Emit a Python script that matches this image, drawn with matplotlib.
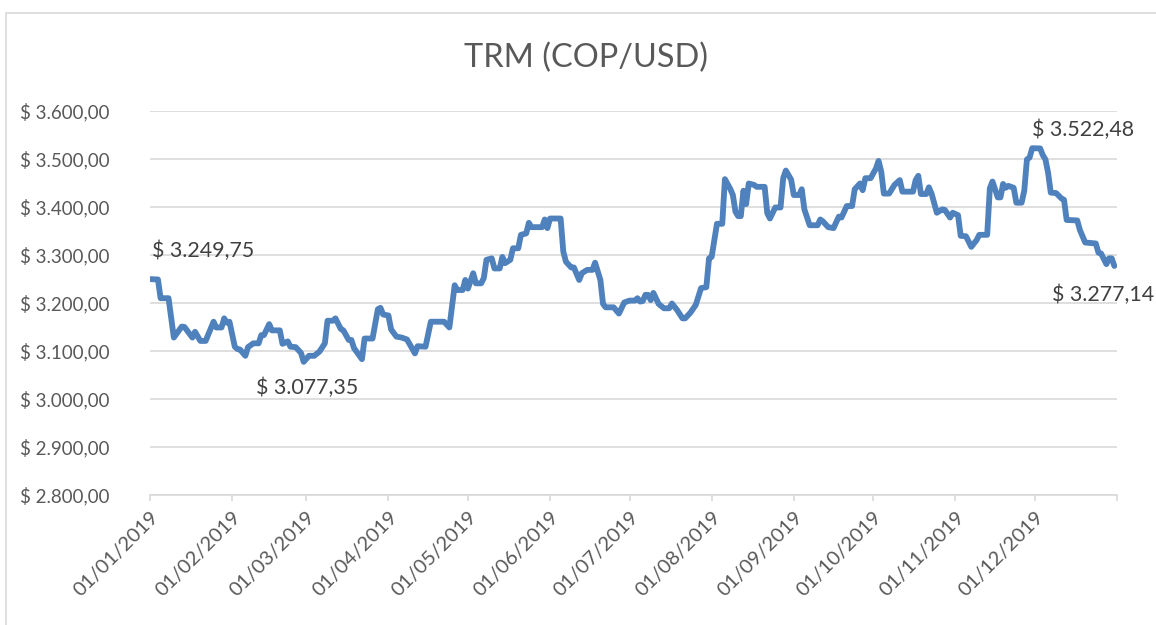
import numpy as np
import pandas as pd
import matplotlib
matplotlib.use("Agg")
import matplotlib.pyplot as plt
from matplotlib.patches import Rectangle

plt.rcParams["font.family"] = ["Lato", "DejaVu Sans"]

# TRM 2019 (día del año desde 01/01/2019, valor COP/USD)
dias = [0, 3, 4, 7, 9, 12, 13, 16, 17, 19, 21, 24, 25, 27, 28, 29, 30, 32, 33, 34,
        36, 37, 39, 41, 42, 43, 45, 46, 49, 50, 52, 53, 55, 57, 58, 60, 62, 64, 66,
        67, 69, 70, 72, 73, 75, 76, 77, 80, 81, 84, 86, 87, 88, 90, 91, 93, 95, 97,
        100, 101, 104, 106, 111, 113, 115, 116, 118, 119, 120, 122, 123, 125, 126,
        127, 129, 130, 132, 133, 134, 136, 137, 139, 140, 142, 143, 144, 148, 149,
        150, 151, 155, 156, 157, 159, 160, 162, 163, 165, 167, 168, 170, 171, 172,
        175, 177, 179, 181, 183, 184, 185, 186, 187, 188, 189, 190, 192, 194, 196,
        197, 199, 201, 202, 204, 206, 208, 210, 211, 212, 214, 216, 217, 219, 220,
        221, 222, 223, 224, 225, 226, 228, 229, 232, 233, 234, 236, 238, 239, 240,
        242, 243, 245, 246, 247, 249, 252, 253, 254, 256, 258, 260, 261, 263, 265,
        266, 268, 269, 270, 272, 274, 275, 276, 277, 279, 281, 283, 284, 288, 289,
        290, 291, 293, 294, 295, 297, 299, 300, 302, 303, 305, 306, 308, 310, 312,
        313, 316, 317, 318, 320, 321, 322, 323, 324, 326, 327, 329, 330, 331, 332,
        333, 336, 337, 338, 339, 340, 342, 344, 345, 346, 350, 351, 353, 355, 357,
        358, 359, 361, 362, 363, 364]
trm = [3249.75, 3249, 3210, 3210, 3128, 3151, 3150, 3128, 3140, 3121, 3121, 3161,
       3149, 3149, 3168, 3159, 3161, 3109, 3104, 3103, 3090, 3108, 3116, 3116, 3133,
       3133, 3156, 3143, 3143, 3115, 3120, 3109, 3108, 3096, 3077.35, 3090, 3090,
       3099, 3116, 3163, 3163, 3168, 3146, 3143, 3123, 3123, 3106, 3083, 3126, 3126,
       3187, 3190, 3176, 3174, 3145, 3130, 3128, 3124, 3095, 3110, 3109, 3161, 3161,
       3149, 3237, 3227, 3227, 3248, 3230, 3262, 3241, 3241, 3252, 3290, 3293, 3272,
       3272, 3296, 3283, 3290, 3314, 3314, 3342, 3345, 3367, 3358, 3358, 3374, 3356,
       3376, 3376, 3307, 3286, 3274, 3274, 3248, 3262, 3269, 3269, 3284, 3248, 3198,
       3191, 3191, 3178, 3201, 3205, 3205, 3210, 3203, 3204, 3217, 3217, 3206, 3221,
       3198, 3189, 3189, 3199, 3185, 3168, 3168, 3180, 3196, 3231, 3233, 3293, 3296,
       3365, 3365, 3458, 3438, 3425, 3390, 3381, 3381, 3434, 3406, 3449, 3446, 3442,
       3442, 3387, 3376, 3399, 3399, 3460, 3476, 3457, 3425, 3425, 3437, 3395, 3362,
       3362, 3374, 3370, 3358, 3356, 3380, 3378, 3402, 3402, 3437, 3449, 3435, 3460,
       3460, 3480, 3496, 3474, 3428, 3428, 3446, 3456, 3432, 3432, 3456, 3465, 3427,
       3427, 3441, 3428, 3388, 3395, 3394, 3378, 3388, 3383, 3340, 3339, 3317, 3331,
       3342, 3342, 3439, 3453, 3420, 3420, 3448, 3440, 3444, 3440, 3409, 3409, 3434,
       3499, 3503, 3522.48, 3522, 3508, 3499, 3471, 3430, 3429, 3418, 3415, 3373,
       3372, 3352, 3326, 3325, 3324, 3305, 3303, 3281, 3293, 3293, 3277.14]

fechas = pd.Timestamp("2019-01-01") + pd.to_timedelta(dias, unit="D")
y_ticks = [2800, 2900, 3000, 3100, 3200, 3300, 3400, 3500, 3600]
x_ticks = pd.date_range("2019-01-01", "2020-01-01", freq="MS")

# valores destacados (día, valor) y desplazamiento de la etiqueta en puntos
dias_etiqueta = [0, 58, 333, 364]
desplaz = [(1.5, 20), (-34, -19), (0, 13), (-45, -21)]


def pesos(v):
    s = f"{v:,.2f}".replace(",", "X").replace(".", ",").replace("X", ".")
    return "$ " + s


gris = "#595959"
fig = plt.figure(figsize=(11.56, 6.25), dpi=100)
fig.patches.append(Rectangle((6 / 1156, -0.01), 1.02, 1 - 13 / 625 + 0.01,
                             transform=fig.transFigure, fill=False,
                             edgecolor="#d9d9d9", linewidth=1.2))
ax = fig.add_axes([150 / 1156, 1 - 495 / 625, 967 / 1156, 384 / 625])

ax.plot(fechas, trm, color="#4f81bd", linewidth=4.2, solid_joinstyle="round",
        solid_capstyle="round")

ax.set_ylim(2800, 3600)
ax.set_xlim(pd.Timestamp("2019-01-01"), pd.Timestamp("2020-01-01"))
ax.set_yticks(y_ticks)
ax.set_yticklabels([pesos(v) for v in y_ticks])
ax.set_xticks(x_ticks)
ax.set_xticklabels([d.strftime("%d/%m/%Y") if d.year == 2019 else "" for d in x_ticks],
                   rotation=45, ha="right", rotation_mode="anchor")
ax.grid(axis="y", color="#d9d9d9", linewidth=1.2)
ax.set_axisbelow(True)
for s in ["top", "right", "left"]:
    ax.spines[s].set_visible(False)
ax.spines["bottom"].set_color("#d9d9d9")
ax.spines["bottom"].set_linewidth(1.2)
ax.tick_params(axis="y", length=0, pad=29, labelsize=13.5, labelcolor=gris)
ax.tick_params(axis="x", length=4.5, width=1.2, color="#d9d9d9", pad=5,
               labelsize=14.5, labelcolor=gris)

for d, (dx, dy) in zip(dias_etiqueta, desplaz):
    v = trm[dias.index(d)]
    ax.annotate(pesos(v), (pd.Timestamp("2019-01-01") + pd.Timedelta(days=d), v),
                xytext=(dx, dy), textcoords="offset points", ha="left",
                va="center", fontsize=15.4, color="#404040")

fig.text(586 / 1156, 1 - 58 / 625, "TRM (COP/USD)", ha="center", va="center",
         fontsize=23.4, color=gris)

fig.savefig("out.png", dpi=100)
